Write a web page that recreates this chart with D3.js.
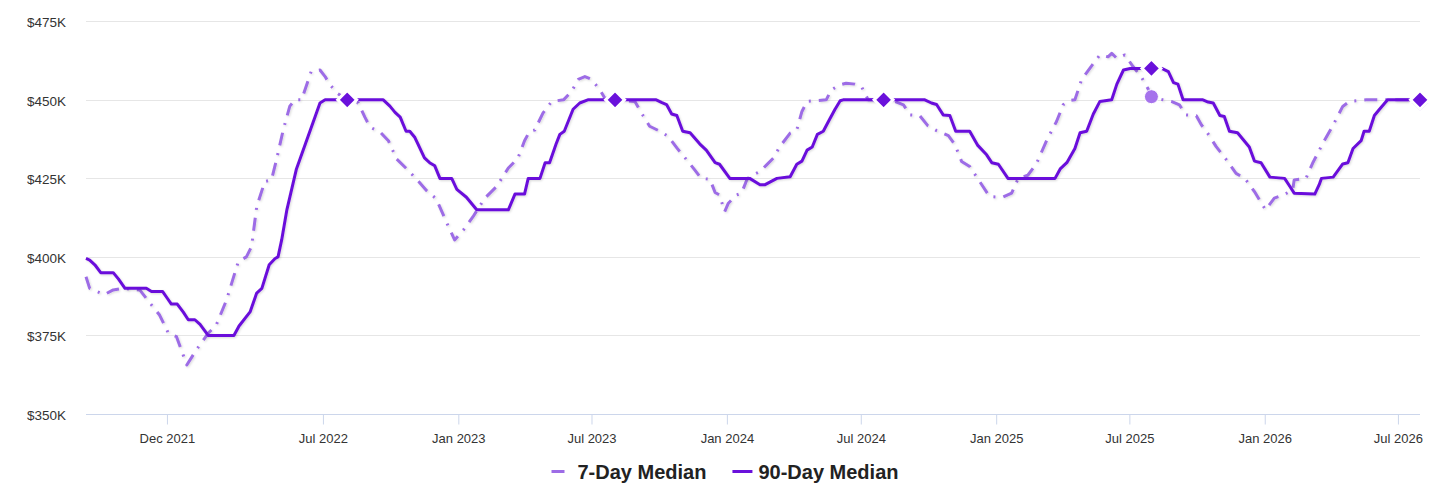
<!DOCTYPE html>
<html>
<head>
<meta charset="utf-8">
<script src="https://cdn.jsdelivr.net/npm/d3@7"></script>
<style>
  body { margin: 0; background: #fff; }
  svg { display: block; font-family: "Liberation Sans", Arial, Helvetica, sans-serif; }
</style>
</head>
<body>
<div id="chart"></div>
<script>
// values in $K
const ninetyDayDates = [
  '2021-08-13','2021-08-18','2021-08-25','2021-09-02','2021-09-19','2021-09-26','2021-10-05','2021-11-03','2021-11-10','2021-11-25',
  '2021-12-01','2021-12-07','2021-12-15','2021-12-23','2021-12-30','2022-01-08','2022-01-15','2022-01-26','2022-03-02','2022-03-09',
  '2022-03-24','2022-04-02','2022-04-09','2022-04-19','2022-04-27','2022-05-01','2022-05-06','2022-05-13','2022-05-26','2022-06-27',
  '2022-07-04','2022-07-20','2022-08-03','2022-08-18','2022-09-21','2022-09-30','2022-10-07','2022-10-14','2022-10-22','2022-10-27',
  '2022-11-03','2022-11-16','2022-11-23','2022-11-30','2022-12-07','2022-12-23','2022-12-30','2023-01-12','2023-01-26','2023-03-10',
  '2023-03-19','2023-04-01','2023-04-06','2023-04-22','2023-04-29','2023-05-05','2023-05-14','2023-05-19','2023-05-25','2023-06-06',
  '2023-06-15','2023-06-26','2023-07-17','2023-08-02','2023-08-15','2023-09-27','2023-10-04','2023-10-11','2023-10-18','2023-10-25',
  '2023-11-02','2023-11-12','2023-11-25','2023-12-04','2023-12-16','2023-12-22','2024-01-05','2024-02-01','2024-02-15','2024-02-22',
  '2024-03-09','2024-03-27','2024-04-05','2024-04-12','2024-04-19','2024-04-26','2024-05-03','2024-05-11','2024-05-20','2024-05-27',
  '2024-06-03','2024-06-07','2024-07-13','2024-08-01','2024-08-16','2024-09-26','2024-10-05','2024-10-12','2024-10-21','2024-10-30',
  '2024-11-07','2024-11-26','2024-12-07','2024-12-19','2024-12-26','2025-01-04','2025-01-17','2025-03-22','2025-03-29','2025-04-07',
  '2025-04-18','2025-04-25','2025-05-04','2025-05-13','2025-05-22','2025-06-07','2025-06-14','2025-06-23','2025-07-02','2025-07-20',
  '2025-07-31','2025-08-14','2025-08-23','2025-08-30','2025-09-05','2025-09-12','2025-10-09','2025-10-16','2025-10-23','2025-11-01',
  '2025-11-07','2025-11-14','2025-11-25','2025-12-11','2025-12-18','2025-12-27','2026-01-08','2026-01-28','2026-02-04','2026-02-10',
  '2026-03-10','2026-03-16','2026-03-19','2026-04-04','2026-04-17','2026-04-24','2026-05-01','2026-05-12','2026-05-16','2026-05-23',
  '2026-05-30','2026-06-06','2026-06-17','2026-07-31'
];
const ninetyDayValues = [
  399.5,399,397.5,395,395,393,390,390,389,389,
  387,385,385,382.5,380,380,378.5,375,375,378,
  382.5,388.5,390,397.5,399.5,400,405.5,415,428,449,
  450,450,450,450,450,448,446,444.5,440,440,
  438,431.5,430,429,425,425,421.5,419,415,415,
  420,420,425,425,430,430,436,439,440,447,
  449,450,450,450,450,450,449.2,448.5,445.5,445,
  440,439.5,436,434,430,429.5,425,425,423,423,
  425,425.5,429.5,430.5,434,435,439,440,444,447,
  449.7,450,450,450,450,450,449,448.5,445.2,445,
  440,440,435.5,432.5,430,429.5,425,425,428,430,
  434.5,439.5,440,445.5,449.5,450,455,459.5,460,460,
  460,460,459,455.5,455,450,450,449.3,449,445,
  444.7,440,439.5,435,430.5,430,425.4,425,422.5,420.3,
  420,423,425,425.4,429.6,430,434.5,437,440,440,
  445,447,450,450
];

const sevenDayDates = [
  '2021-08-13','2021-08-18','2021-09-07','2021-09-19','2021-10-02','2021-10-25','2021-11-08','2021-11-21','2021-12-03','2021-12-14',
  '2021-12-28','2022-01-10','2022-01-26','2022-02-06','2022-02-20','2022-03-08','2022-03-19','2022-03-26','2022-04-02','2022-04-13',
  '2022-04-22','2022-04-29','2022-05-08','2022-05-17','2022-05-24','2022-06-02','2022-06-15','2022-06-27','2022-07-04','2022-07-10',
  '2022-07-20','2022-08-03','2022-08-18','2022-08-27','2022-09-03','2022-09-17','2022-09-28','2022-10-09','2022-10-23','2022-11-05',
  '2022-11-19','2022-12-02','2022-12-16','2022-12-27','2023-01-08','2023-01-21','2023-02-06','2023-02-22','2023-03-10','2023-03-23',
  '2023-04-01','2023-04-08','2023-04-15','2023-04-26','2023-05-08','2023-05-24','2023-06-04','2023-06-13','2023-06-22','2023-07-01',
  '2023-07-12','2023-07-19','2023-08-02','2023-08-29','2023-09-07','2023-09-18','2023-10-02','2023-10-13','2023-10-25','2023-11-07',
  '2023-11-18','2023-11-27','2023-12-09','2023-12-16','2023-12-22','2023-12-29','2024-01-03','2024-01-14','2024-01-21','2024-01-28',
  '2024-02-01','2024-02-15','2024-02-24','2024-03-04','2024-03-13','2024-03-27','2024-04-05','2024-04-12','2024-04-19','2024-05-15',
  '2024-05-22','2024-06-03','2024-06-11','2024-06-23','2024-07-02','2024-07-11','2024-08-01','2024-08-16','2024-08-28','2024-09-06',
  '2024-09-19','2024-09-30','2024-10-12','2024-10-28','2024-11-06','2024-11-15','2024-11-26','2024-12-05','2024-12-14','2024-12-23',
  '2025-01-10','2025-01-22','2025-01-31','2025-02-13','2025-02-25','2025-03-11','2025-03-24','2025-04-02','2025-04-11','2025-04-18',
  '2025-04-27','2025-05-10','2025-05-22','2025-06-02','2025-06-07','2025-06-14','2025-06-25','2025-07-06','2025-07-17','2025-07-26',
  '2025-07-31','2025-08-16','2025-08-27','2025-09-07','2025-09-16','2025-09-30','2025-10-07','2025-10-14','2025-10-27','2025-11-10',
  '2025-11-23','2025-12-05','2025-12-18','2026-01-02','2026-01-14','2026-01-26','2026-02-08','2026-02-10','2026-02-26','2026-03-07',
  '2026-03-21','2026-04-04','2026-04-17','2026-04-26','2026-05-19','2026-07-17','2026-07-31'
];
const sevenDayValues = [
  393.7,390,388,389.5,390,389.5,385.3,381.5,375.7,374.6,
  365.6,370.4,375.7,378.3,386.3,398.5,400,403.3,416,424,
  424.5,431,440.4,448,450,450,459,459.5,457.4,455,
  452.2,450,449,444.5,441.3,439.7,437,431.2,428,424.8,
  421.1,418.5,411,405.4,408.6,412.8,418.7,422.4,428.3,431.4,
  437,440,440.4,445.8,449.5,450,452.7,456.5,457.4,456.5,
  453.3,450.6,450,449.5,445.8,441.6,440,438.4,434.7,431,
  427.8,425,424.7,420.5,419.7,414.4,417.1,419.7,420.3,424.5,
  425.6,427.2,429.3,431.4,435.1,439.4,440.4,446.3,449.5,450,
  453.2,454.8,455.3,455,454.2,450,450,449.5,448.4,445.2,
  445,441.8,440.2,438.6,435.7,430.4,428.8,425.6,422.4,419.2,
  419,420.3,425,426,429.8,437.3,443.1,448.4,449.8,450,
  456.4,460.6,464.3,463.7,464.8,463.2,464.3,460.6,457.4,453.7,
  451,450,449.5,448.4,445.2,444.9,442,439.9,435.1,430.9,
  426.6,425,420.8,415,418.7,419.7,421.3,424.5,425,429.8,
  436.2,442,447.9,449.5,450,450,449
];

// highlighted points on the 90-day line, one per year
const markerDates = ['2022-08-03','2023-08-02','2024-08-01','2025-07-31','2026-07-31'];
const hoverDate = '2025-07-31';

const yTicks = [350, 375, 400, 425, 450, 475];
const xTickDates = ['2021-12-01','2022-07-01','2023-01-01','2023-07-01','2024-01-01','2024-07-01','2025-01-01','2025-07-01','2026-01-01','2026-07-01'];

const colors = { seven: '#9d6ce6', ninety: '#6a11db', grid: '#e6e6e6', axis: '#ccd6eb', label: '#333333' };

const parse = d3.timeParse('%Y-%m-%d');
const ninety = ninetyDayDates.map((d, i) => ({ date: parse(d), value: ninetyDayValues[i] }));
const seven = sevenDayDates.map((d, i) => ({ date: parse(d), value: sevenDayValues[i] }));

const width = 1456, height = 495;
const plotLeft = 86, plotRight = 1420, plotTop = 21.3, plotBottom = 414;

const svg = d3.select('#chart').append('svg')
  .attr('width', width)
  .attr('height', height);

const defs = svg.append('defs');
const shadow = defs.append('filter').attr('id', 'shadow')
  .attr('x', '-5%').attr('y', '-5%').attr('width', '110%').attr('height', '110%');
shadow.append('feDropShadow')
  .attr('dx', 1).attr('dy', 1).attr('stdDeviation', 1.2)
  .attr('flood-color', '#000').attr('flood-opacity', 0.15);

const x = d3.scaleTime()
  .domain([parse('2021-08-13'), parse('2026-07-31')])
  .range([plotLeft, plotRight]);

const y = d3.scaleLinear()
  .domain([350, 475])
  .range([plotBottom, plotTop]);

// gridlines
svg.append('g')
  .selectAll('line')
  .data(yTicks.filter(t => t > 350))
  .enter()
  .append('line')
  .attr('x1', plotLeft)
  .attr('x2', plotRight)
  .attr('y1', d => Math.round(y(d)) + 0.5)
  .attr('y2', d => Math.round(y(d)) + 0.5)
  .attr('stroke', colors.grid)
  .attr('stroke-width', 1);

// y axis labels
const yAxis = svg.append('g')
  .attr('transform', `translate(${plotLeft},0)`)
  .call(d3.axisLeft(y).tickValues(yTicks).tickSize(0).tickPadding(20).tickFormat(d => `$${d}K`));
yAxis.select('.domain').remove();
yAxis.selectAll('text')
  .attr('dy', '0.62em')
  .attr('y', -3)
  .style('font-size', '13.5px')
  .style('fill', colors.label)
  .style('font-family', '"Liberation Sans", Arial, sans-serif');

// x axis
const xAxis = svg.append('g')
  .attr('transform', `translate(0,${Math.round(plotBottom) + 0.5})`)
  .call(d3.axisBottom(x)
    .tickValues(xTickDates.map(parse))
    .tickSize(10)
    .tickPadding(9)
    .tickSizeOuter(0)
    .tickFormat(d3.timeFormat('%b %Y')));
xAxis.select('.domain')
  .attr('stroke', colors.axis)
  .attr('d', `M${plotLeft},0H${plotRight}`);
xAxis.selectAll('.tick line').attr('stroke', colors.axis);
xAxis.selectAll('text')
  .style('font-size', '13px')
  .style('fill', colors.label)
  .style('font-family', '"Liberation Sans", Arial, sans-serif');

const line = d3.line()
  .x(d => x(d.date))
  .y(d => y(d.value));

// 7-day series (dash-dot)
svg.append('path')
  .datum(seven)
  .attr('d', line)
  .attr('fill', 'none')
  .attr('stroke', colors.seven)
  .attr('stroke-width', 3)
  .attr('stroke-dasharray', '13,8,2,8')
  .attr('stroke-linejoin', 'round')
  .attr('filter', 'url(#shadow)');

// 90-day series
svg.append('path')
  .datum(ninety)
  .attr('d', line)
  .attr('fill', 'none')
  .attr('stroke', colors.ninety)
  .attr('stroke-width', 3)
  .attr('stroke-linejoin', 'round')
  .attr('filter', 'url(#shadow)');

const diamond = d3.symbol().type(d3.symbolDiamond2).size(230);

// end marker of the 7-day line, mostly hidden under the 90-day one
const lastSeven = seven[seven.length - 1];
svg.append('path')
  .attr('d', diamond)
  .attr('transform', `translate(${x(lastSeven.date)},${y(lastSeven.value)})`)
  .attr('fill', colors.seven)
  .attr('stroke', '#fff')
  .attr('stroke-width', 2);

// hover-style circle on the 7-day line
const hoverPoint = seven.find(d => +d.date === +parse(hoverDate));
svg.append('circle')
  .attr('cx', x(hoverPoint.date))
  .attr('cy', y(hoverPoint.value))
  .attr('r', 7)
  .attr('fill', '#a673ec')
  .attr('stroke', '#fff')
  .attr('stroke-width', 1);

// yearly diamonds on the 90-day line
const markerSet = new Set(markerDates);
svg.append('g')
  .selectAll('path')
  .data(ninety.filter((d, i) => markerSet.has(ninetyDayDates[i])))
  .enter()
  .append('path')
  .attr('d', diamond)
  .attr('transform', d => `translate(${x(d.date)},${y(d.value)})`)
  .attr('fill', colors.ninety)
  .attr('stroke', '#fff')
  .attr('stroke-width', 3);

// legend
const legendItems = [
  { label: '7-Day Median', color: colors.seven, dash: '13,8,2,8' },
  { label: '90-Day Median', color: colors.ninety, dash: null }
];
const legend = svg.append('g');
let lx = 0;
legendItems.forEach((item, i) => {
  const g = legend.append('g').attr('transform', `translate(${lx},0)`);
  g.append('line')
    .attr('x1', 0).attr('x2', 20)
    .attr('y1', 0).attr('y2', 0)
    .attr('stroke', item.color)
    .attr('stroke-width', 3)
    .attr('stroke-dasharray', item.dash);
  const t = g.append('text')
    .attr('x', 26)
    .attr('y', 7)
    .style('font-size', '20px')
    .style('font-weight', 'bold')
    .style('fill', '#222')
    .text(item.label);
  lx += 26 + t.node().getComputedTextLength() + 26;
});
const legendWidth = lx - 26;
legend.attr('transform', `translate(${(width - legendWidth) / 2 - 3},${471.5})`);
</script>
</body>
</html>
